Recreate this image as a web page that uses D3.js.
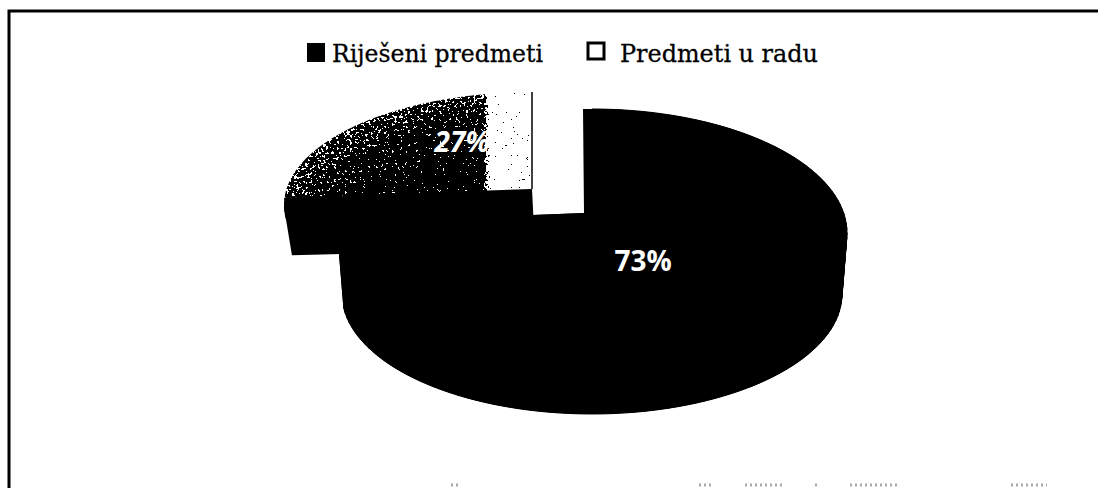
<!DOCTYPE html>
<html><head><meta charset="utf-8">
<script src="https://cdn.jsdelivr.net/npm/d3@7/dist/d3.min.js"></script>
<style>html,body{margin:0;padding:0;background:#fff}svg{display:block}</style></head>
<body><svg id="c" width="1098" height="488"></svg>
<script>
const categories = ["Riješeni predmeti", "Predmeti u radu"];
const values = [73, 27];
const labels = ["73%", "27%"];

const svg = d3.select("#c");
const defs = svg.append("defs");
const pie = d3.pie().sort(null).value(d => d);
const arcs = pie(values);
const line = d3.line();
const ell = (e, a) => [e.cx + e.rx * Math.sin(a), e.cy - e.ry * Math.cos(a)];
const samples = (a0, a1) => d3.range(0, 121).map(i => a0 + (a1 - a0) * i / 120);

// frame
svg.append("path").attr("d", "M9,488V11H1098").attr("fill", "none").attr("stroke", "#000").attr("stroke-width", 3);
// scan residue along the bottom edge
svg.selectAll("line.scan").data([[451, 461], [699, 713], [745, 782], [815, 819], [850, 899], [1011, 1047]]).join("line")
  .attr("class", "scan").attr("x1", d => d[0]).attr("x2", d => d[1]).attr("y1", 485).attr("y2", 485)
  .attr("stroke", "#aaa").attr("stroke-width", 3).attr("stroke-dasharray", "2 3");

// geometry of the two perspective slices
const main = {
  top: {cx: 592, cy: 233, rx: 255, ry: 124}, hub: [584, 213], hubL: [533, 215], rim: [583, 109],
  bot: {cx: 592, cy: 294, rx: 250, ry: 120}
};
const ex = {
  top: {cx: 533, cy: 205, rx: 249, ry: 113}, hub: [532, 189],
  bot: {cx: 535, cy: 249, rx: 245, ry: 50}
};

// exploded slice: textured face
const a1 = arcs[1];
const facePts = [ex.hub, ...samples(a1.startAngle, a1.endAngle).map(a => ell(ex.top, a))];
defs.append("clipPath").attr("id", "faceClip").append("path").attr("d", line(facePts) + "Z");

const grey = v => d3.rgb(v * 255, v * 255, v * 255);
const rad = defs.append("radialGradient").attr("id", "tone").attr("gradientUnits", "userSpaceOnUse")
  .attr("cx", 0).attr("cy", 0).attr("r", 1)
  .attr("gradientTransform", `translate(${ex.top.cx},${ex.top.cy}) scale(${ex.top.rx},${ex.top.ry})`);
[[0, .13], [.62, .15], [.8, .21], [.93, .31], [1, .38]].forEach(s =>
  rad.append("stop").attr("offset", s[0]).attr("stop-color", grey(s[1])));
const soft = defs.append("linearGradient").attr("id", "pale").attr("gradientUnits", "userSpaceOnUse")
  .attr("x1", 483).attr("x2", 490).attr("y1", 0).attr("y2", 0);
[[0, 0], [1, 1]].forEach(s => soft.append("stop").attr("offset", s[0])
  .attr("stop-color", grey(.92)).attr("stop-opacity", s[1]));

const f = defs.append("filter").attr("id", "speck").attr("filterUnits", "userSpaceOnUse")
  .attr("x", 270).attr("y", 80).attr("width", 280).attr("height", 150)
  .attr("color-interpolation-filters", "sRGB");
f.append("feTurbulence").attr("type", "fractalNoise").attr("baseFrequency", .38).attr("numOctaves", 3).attr("seed", 7).attr("result", "n");
f.append("feColorMatrix").attr("in", "n").attr("type", "matrix")
  .attr("values", "1 0 0 0 0 1 0 0 0 0 1 0 0 0 0 0 0 0 0 1").attr("result", "g");
f.append("feComposite").attr("in", "SourceGraphic").attr("in2", "g").attr("operator", "arithmetic")
  .attr("k1", 0).attr("k2", 1).attr("k3", 1.6).attr("k4", -.8).attr("result", "m");
const ct = f.append("feComponentTransfer").attr("in", "m");
["feFuncR", "feFuncG", "feFuncB"].forEach(n => ct.append(n).attr("type", "discrete").attr("tableValues", "0 1"));

const tex = svg.append("g").attr("clip-path", "url(#faceClip)").append("g").attr("filter", "url(#speck)");
tex.append("rect").attr("x", 270).attr("y", 80).attr("width", 280).attr("height", 150).attr("fill", "url(#tone)");
tex.append("rect").attr("x", 483).attr("y", 80).attr("width", 60).attr("height", 150).attr("fill", "url(#pale)");

// right edge of the exploded face
svg.append("line").attr("x1", ex.hub[0]).attr("x2", ex.hub[0]).attr("y1", 92).attr("y2", ex.hub[1])
  .attr("stroke", "#000").attr("stroke-width", 1.5);

// exploded slice: wall below the face
const tilt = 11 * Math.PI / 180;
const wallTop = samples(a1.startAngle, a1.startAngle + tilt).map(a => ell(ex.top, a)).reverse();
const wall = [ex.hub, ...wallTop, ell(ex.bot, a1.startAngle), [ex.bot.cx, ex.bot.cy]];
svg.append("path").attr("d", line(wall) + "Z").attr("fill", "#000");

// main slice: wall as a strip of quads, then bottom and top faces
const a0 = arcs[0];
const angs = samples(a0.startAngle, a0.endAngle);
svg.append("g").selectAll("path").data(d3.pairs(angs)).join("path")
  .attr("d", d => line([ell(main.top, d[0]), ell(main.top, d[1]), ell(main.bot, d[1]), ell(main.bot, d[0])]) + "Z")
  .attr("fill", "#000").attr("stroke", "#000").attr("stroke-width", 1);
const bottomFill = [main.hub, ...angs.map(a => ell(main.bot, a)), main.hubL];
svg.append("path").attr("d", line(bottomFill) + "Z").attr("fill", "#000");
const face = [main.hub, main.rim, ...angs.map(a => ell(main.top, a)), main.hubL];
svg.append("path").attr("d", line(face) + "Z").attr("fill", "#000");
const seam = [main.hubL, ell(main.top, a0.endAngle), ell(main.bot, a0.endAngle)];
svg.append("path").attr("d", line(seam) + "Z").attr("fill", "#000").attr("stroke", "#000");

// data labels
svg.append("text").attr("x", 643).attr("y", 271).attr("text-anchor", "middle")
  .attr("font-family", "'Open Sans',sans-serif").attr("font-weight", 700).attr("font-size", 28)
  .attr("fill", "#fff").text(labels[0]);
svg.append("text").attr("x", 462).attr("y", 152).attr("text-anchor", "middle")
  .attr("font-family", "'Open Sans',sans-serif").attr("font-weight", 700).attr("font-style", "italic").attr("font-size", 28)
  .attr("fill", "#fff").text(labels[1]);

// legend
const legend = [
  {x: 307, y: 43, w: 18, h: 19, tx: 332, tw: 211},
  {x: 588, y: 43, w: 16, h: 16, tx: 620, tw: 198}
];
legend.forEach((l, i) => {
  svg.append("rect").attr("x", l.x).attr("y", l.y).attr("width", l.w).attr("height", l.h)
    .attr("fill", i === 0 ? "#000" : "#fff").attr("stroke", "#000").attr("stroke-width", i === 0 ? 0 : 3);
  svg.append("text").attr("x", l.tx).attr("y", 62)
    .attr("font-family", "'DejaVu Serif',serif").attr("font-size", 24).attr("fill", "#000")
    .attr("stroke", "#000").attr("stroke-width", .3)
    .attr("textLength", l.tw).attr("lengthAdjust", "spacingAndGlyphs").text(categories[i]);
});
</script></body></html>
